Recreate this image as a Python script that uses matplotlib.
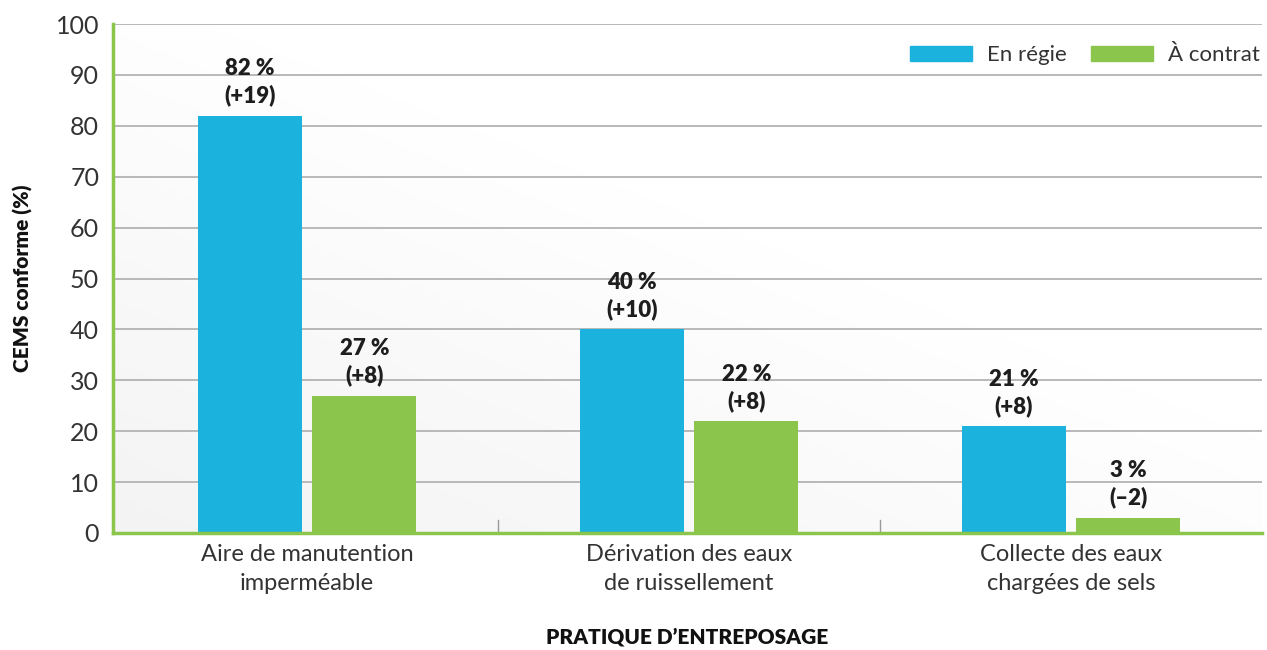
import numpy as np
import matplotlib.pyplot as plt
from matplotlib.patches import Patch

categories = ["Aire de manutention\nimperméable",
              "Dérivation des eaux\nde ruissellement",
              "Collecte des eaux\nchargées de sels"]
en_regie = [82, 40, 21]
a_contrat = [27, 22, 3]
diff_regie = ["+19", "+10", "+8"]
diff_contrat = ["+8", "+8", "–2"]

BLUE = "#1bb2de"
GREEN = "#8bc54b"
TEXT = "#333333"

plt.rcParams["font.family"] = ["Lato", "DejaVu Sans"]

fig = plt.figure(figsize=(12.67, 6.5), dpi=100)
ax = fig.add_axes([0.0892, 0.18, 0.9069, 0.783])
x_lo, x_hi = -0.508, 2.5

# soft grey-to-white wash behind the bars
xx, yy = np.meshgrid(np.linspace(0, 1, 200), np.linspace(0, 1, 200))
wash = np.clip(1 - (xx * 0.8 + yy * 0.9), 0, 1)
ax.imshow(wash, extent=(x_lo, x_hi, 0, 100), origin="lower", aspect="auto",
          cmap="Greys", vmin=0, vmax=10, zorder=0, interpolation="bilinear")

x = np.arange(len(categories))
w = 0.272
off = 0.15
ax.bar(x - off, en_regie, w, color=BLUE, zorder=3, label="En régie")
ax.bar(x + off, a_contrat, w, color=GREEN, zorder=3, label="À contrat")

for xs, vals, diffs in [(x - off, en_regie, diff_regie), (x + off, a_contrat, diff_contrat)]:
    for xi, v, d in zip(xs, vals, diffs):
        ax.text(xi, v + 1.8, f"{v} %\n({d})", ha="center", va="bottom",
                fontsize=16, fontweight="heavy", color="#1e1e1e", linespacing=1.3, zorder=4)

ax.set_xlim(x_lo, x_hi)
ax.set_ylim(0, 100)
ax.set_yticks(range(0, 101, 10))
ax.yaxis.grid(True, color="#b3b3b3", linewidth=1.3, zorder=1)
ax.set_axisbelow(True)

ax.set_xticks(x)
ax.set_xticklabels(categories, fontsize=17, color=TEXT, linespacing=1.45)
ax.tick_params(axis="x", length=0, pad=8)
ax.tick_params(axis="y", length=0, pad=10, labelsize=18, labelcolor=TEXT)

# small separators between groups
for sep in [0.5, 1.5]:
    ax.plot([sep, sep], [0, 2.6], color="#999999", linewidth=1, zorder=2)

for side in ["top", "right"]:
    ax.spines[side].set_visible(False)
for side in ["left", "bottom"]:
    ax.spines[side].set_color(GREEN)
    ax.spines[side].set_linewidth(2.5)
    ax.spines[side].set_zorder(5)

ax.set_ylabel("CEMS conforme (%)", fontsize=15, fontweight="heavy", color="#111111", labelpad=16)
ax.set_xlabel("PRATIQUE D\u2019ENTREPOSAGE", fontsize=15, fontweight="heavy", color="#111111", labelpad=24)

handles = [Patch(color=BLUE, label="En régie"), Patch(color=GREEN, label="À contrat")]
leg = ax.legend(handles=handles, loc="upper right", bbox_to_anchor=(1.01, 0.985), ncol=2,
                frameon=False, fontsize=16, handlelength=2.8, handleheight=0.65,
                columnspacing=1.05, handletextpad=0.7, borderaxespad=0.2)
for t in leg.get_texts():
    t.set_color(TEXT)

fig.savefig("out.png", dpi=100)
